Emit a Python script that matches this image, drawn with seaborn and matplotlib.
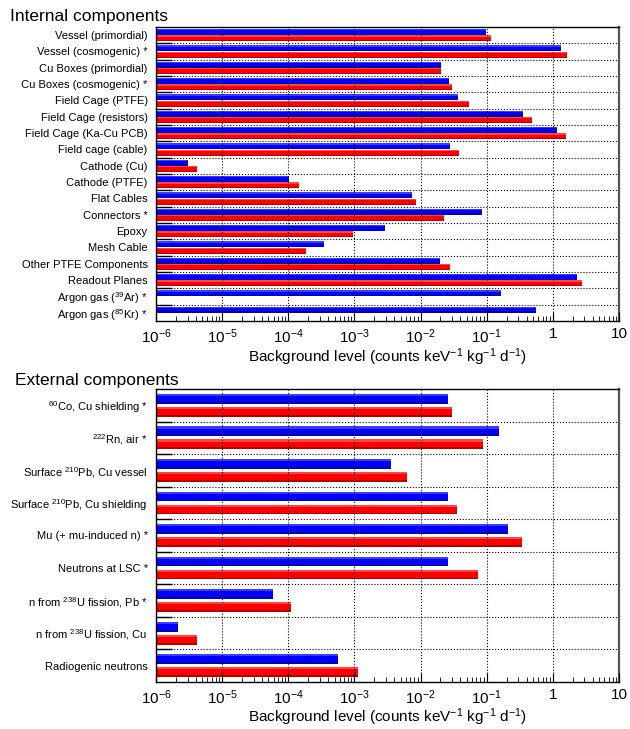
import numpy as np
import pandas as pd
import seaborn as sns
import matplotlib.pyplot as plt
from matplotlib.patches import Rectangle
from matplotlib.ticker import FixedLocator, LogLocator, NullFormatter

# Internal components (blue = first set, red = second set)
internal_labels = ['Vessel (primordial)', 'Vessel (cosmogenic) *', 'Cu Boxes (primordial)',
                   'Cu Boxes (cosmogenic) *', 'Field Cage (PTFE)', 'Field Cage (resistors)',
                   'Field Cage (Ka-Cu PCB)', 'Field cage (cable)', 'Cathode (Cu)', 'Cathode (PTFE)',
                   'Flat Cables', 'Connectors *', 'Epoxy', 'Mesh Cable', 'Other PTFE Components',
                   'Readout Planes', 'Argon gas ($^{39}$Ar) *', 'Argon gas ($^{85}$Kr) *']
internal_blue = [0.098, 1.33, 0.0204, 0.0269, 0.0368, 0.354, 1.16, 0.0279, 3.05e-6, 1.01e-4,
                 0.0074, 0.085, 0.0029, 3.47e-4, 0.0197, 2.32, 0.164, 0.548]
internal_red = [0.116, 1.64, 0.0204, 0.0299, 0.054, 0.484, 1.58, 0.038, 4.17e-6, 1.45e-4,
                0.0085, 0.0226, 9.5e-4, 1.85e-4, 0.0279, 2.76, np.nan, np.nan]

# External components
external_labels = ['$^{60}$Co, Cu shielding *', '$^{222}$Rn, air *', 'Surface $^{210}$Pb, Cu vessel',
                   'Surface $^{210}$Pb, Cu shielding', 'Mu (+ mu-induced n) *', 'Neutrons at LSC *',
                   'n from $^{238}$U fission, Pb *', 'n from $^{238}$U fission, Cu', 'Radiogenic neutrons']
external_blue = [0.026, 0.153, 0.00357, 0.026, 0.21, 0.026, 5.88e-5, 2.15e-6, 5.65e-4]
external_red = [0.0299, 0.088, 0.00624, 0.0356, 0.342, 0.0738, 1.1e-4, 4.17e-6, 1.13e-3]

decades = [1e-6, 1e-5, 1e-4, 1e-3, 1e-2, 1e-1, 1, 10]
decade_labels = ['$10^{-6}$', '$10^{-5}$', '$10^{-4}$', '$10^{-3}$', '$10^{-2}$', '$10^{-1}$', '1', '10']

xlabel = 'Background level (counts keV$^{-1}$ kg$^{-1}$ d$^{-1}$)'

sns.set_theme(style='white')
plt.rcParams['font.family'] = ['Liberation Sans', 'DejaVu Sans']
plt.rcParams['mathtext.fontset'] = 'custom'
plt.rcParams['mathtext.rm'] = 'Liberation Sans'
plt.rcParams['mathtext.it'] = 'Liberation Sans:italic'
plt.rcParams['mathtext.default'] = 'regular'
plt.rcParams['axes.unicode_minus'] = False
plt.rcParams['text.color'] = 'black'
plt.rcParams['xtick.color'] = 'black'
plt.rcParams['ytick.color'] = 'black'
plt.rcParams['axes.labelcolor'] = 'black'


def long_table(labels, blue, red):
    n = len(labels)
    return pd.DataFrame({'component': labels * 2,
                         'level': blue + red,
                         'set': ['A'] * n + ['B'] * n})


def draw_panel(ax, df, gap, label_y):
    sns.barplot(data=df, x='level', y='component', hue='set', orient='h',
                palette={'A': '#0000ff', 'B': '#ff0000'}, saturation=1,
                width=0.8, gap=gap, errorbar=None, legend=False,
                linewidth=0, ax=ax)
    # ROOT-like shading: lighter strip on top, darker strip at bottom
    for p in list(ax.patches):
        x0, y0, w, h = p.get_x(), p.get_y(), p.get_width(), p.get_height()
        if not np.isfinite(w) or w <= 0:
            continue
        red = p.get_facecolor()[0] > 0.5
        light = '#ff4545' if red else '#3c3cff'
        dark = '#b00000' if red else '#0000a8'
        ax.add_patch(Rectangle((x0, y0), w, h * 0.22, color=light, lw=0))
        ax.add_patch(Rectangle((x0, y0 + h * 0.82), w, h * 0.18, color=dark, lw=0))

    n = df['component'].nunique()
    ax.set_xscale('log')
    ax.set_xlim(1e-6, 10)
    ax.set_ylim(n - 0.5, -0.5)
    ax.set_xticks(decades)
    ax.set_xticklabels(decade_labels)
    ax.xaxis.set_minor_locator(LogLocator(subs=np.arange(2, 10), numticks=20))
    ax.xaxis.set_minor_formatter(NullFormatter())
    ax.yaxis.set_minor_locator(FixedLocator(np.arange(0.5, n - 1, 1)))
    ax.tick_params(axis='x', which='major', direction='in', length=6.5, width=0.8,
                   bottom=True, top=False, labelsize=11, pad=4.5, color='black')
    ax.tick_params(axis='x', which='minor', direction='in', length=3.5, width=0.6,
                   bottom=True, top=False, color='black')
    ax.tick_params(axis='y', which='major', length=0, pad=6, labelsize=8)
    ax.tick_params(axis='y', which='minor', direction='in', length=11.5, width=1,
                   left=True, right=False, color='black')
    ax.grid(True, axis='x', which='major', linestyle=':', color='black', linewidth=0.8)
    ax.grid(True, axis='y', which='minor', linestyle=':', color='black', linewidth=0.8)
    ax.set_axisbelow(False)
    ax.set_ylabel('')
    ax.set_xlabel(xlabel, fontsize=11)
    ax.xaxis.label.set_va('center')
    ax.xaxis.set_label_coords(0.5, label_y)
    for s in ax.spines.values():
        s.set_color('black')
        s.set_linewidth(1.0)
    ax.spines['right'].set_color('#555555')
    ax.spines['right'].set_linewidth(1.6)


fig = plt.figure(figsize=(6.3, 7.29), dpi=100)
ax1 = fig.add_axes([0.2476, 0.5597, 0.7349, 0.4033])
ax2 = fig.add_axes([0.2476, 0.0645, 0.7349, 0.4019])

draw_panel(ax1, long_table(internal_labels, internal_blue, internal_red), gap=0.08, label_y=-36 / 294)
draw_panel(ax2, long_table(external_labels, external_blue, external_red), gap=0.25, label_y=-35.5 / 293)

fig.text(10 / 630, 1 - 16.5 / 729, 'Internal components', fontsize=12.5, va='center', ha='left')
fig.text(15 / 630, 1 - 380 / 729, 'External components', fontsize=12.5, va='center', ha='left')

fig.savefig('out.png', dpi=100)
